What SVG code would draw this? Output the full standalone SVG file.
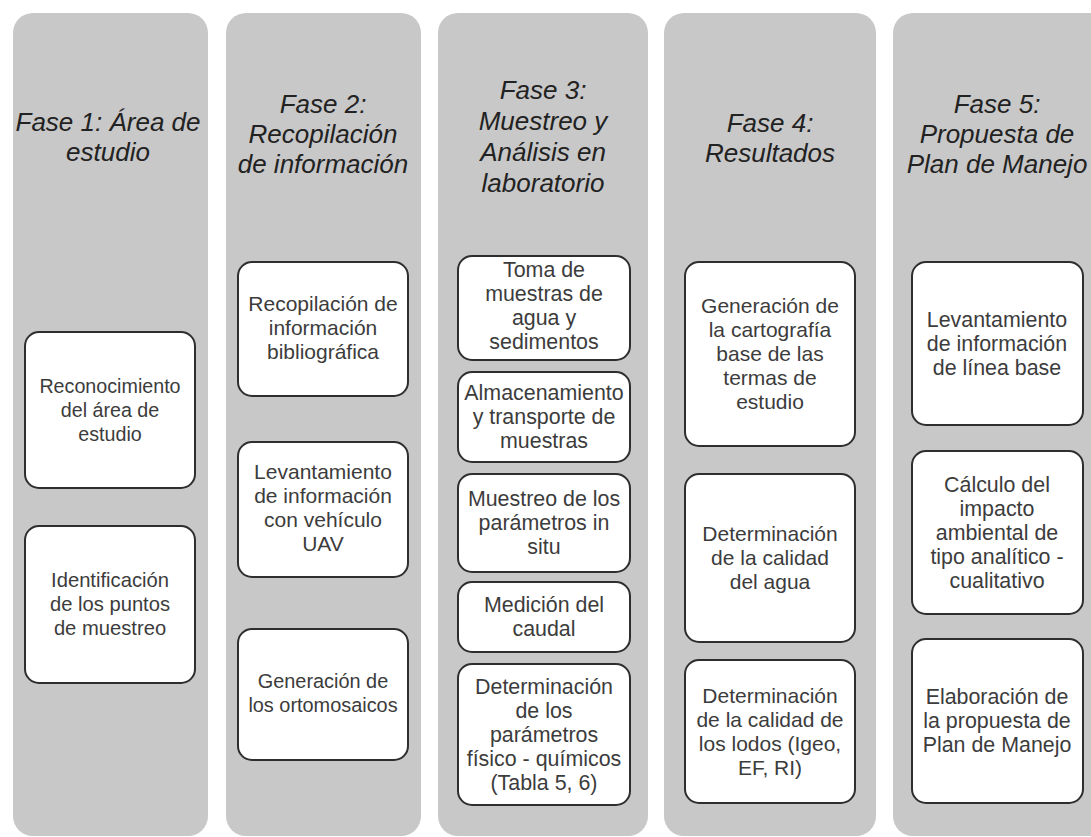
<svg xmlns="http://www.w3.org/2000/svg" width="1091" height="837" viewBox="0 0 1091 837">
<style>
.col{fill:#c8c8c8;}
.box{fill:#ffffff;stroke:#2e2e2e;stroke-width:2;}
.title{font-family:"Liberation Sans",Arial,sans-serif;font-style:italic;font-size:26px;fill:#222222;text-anchor:middle;}
.t{font-family:"Liberation Sans",Arial,sans-serif;font-size:21px;fill:#3c3c3c;text-anchor:middle;}
</style>
<rect width="1091" height="837" fill="#ffffff"/>
<g id="phase1">
<rect class="col" x="13" y="13" width="195" height="823" rx="20"/>
<text class="title"><tspan x="108" y="131">Fase 1: Área de</tspan><tspan x="108" y="161">estudio</tspan></text>
</g>
<g id="phase2">
<rect class="col" x="226" y="13" width="195" height="823" rx="20"/>
<text class="title"><tspan x="323" y="113">Fase 2:</tspan><tspan x="323" y="143">Recopilación</tspan><tspan x="323" y="173">de información</tspan></text>
</g>
<g id="phase3">
<rect class="col" x="438" y="13" width="210" height="823" rx="20"/>
<text class="title"><tspan x="543" y="99">Fase 3:</tspan><tspan x="543" y="130">Muestreo y</tspan><tspan x="543" y="161">Análisis en</tspan><tspan x="543" y="192">laboratorio</tspan></text>
</g>
<g id="phase4">
<rect class="col" x="664" y="13" width="212" height="823" rx="20"/>
<text class="title"><tspan x="770" y="132">Fase 4:</tspan><tspan x="770" y="162">Resultados</tspan></text>
</g>
<g id="phase5">
<rect class="col" x="893" y="13" width="220" height="823" rx="20"/>
<text class="title"><tspan x="997" y="113">Fase 5:</tspan><tspan x="997" y="143">Propuesta de</tspan><tspan x="997" y="173">Plan de Manejo</tspan></text>
</g>

<g id="n1a"><rect class="box" x="25" y="332" width="170" height="156" rx="14"/>
<text class="t" style="font-size:19.7px"><tspan x="110" y="393">Reconocimiento</tspan><tspan x="110" y="417">del área de</tspan><tspan x="110" y="441">estudio</tspan></text></g>
<g id="n1b"><rect class="box" x="25" y="526" width="170" height="157" rx="14"/>
<text class="t" style="font-size:20.2px"><tspan x="110" y="587">Identificación</tspan><tspan x="110" y="611">de los puntos</tspan><tspan x="110" y="635">de muestreo</tspan></text></g>

<g id="n2a"><rect class="box" x="238" y="262" width="170" height="134" rx="14"/>
<text class="t"><tspan x="323" y="311">Recopilación de</tspan><tspan x="323" y="335">información</tspan><tspan x="323" y="359">bibliográfica</tspan></text></g>
<g id="n2b"><rect class="box" x="238" y="442" width="170" height="135" rx="14"/>
<text class="t"><tspan x="323" y="479">Levantamiento</tspan><tspan x="323" y="503">de información</tspan><tspan x="323" y="527">con vehículo</tspan><tspan x="323" y="551">UAV</tspan></text></g>
<g id="n2c"><rect class="box" x="238" y="629" width="170" height="131" rx="14"/>
<text class="t" style="font-size:19.9px"><tspan x="323" y="688">Generación de</tspan><tspan x="323" y="712">los ortomosaicos</tspan></text></g>

<g id="n3a"><rect class="box" x="458" y="256" width="172" height="104" rx="14"/>
<text class="t" style="font-size:21.4px"><tspan x="544" y="277">Toma de</tspan><tspan x="544" y="301">muestras de</tspan><tspan x="544" y="325">agua y</tspan><tspan x="544" y="349">sedimentos</tspan></text></g>
<g id="n3b"><rect class="box" x="458" y="372" width="172" height="90" rx="14"/>
<text class="t" style="font-size:21.4px"><tspan x="544" y="400">Almacenamiento</tspan><tspan x="544" y="424">y transporte de</tspan><tspan x="544" y="448">muestras</tspan></text></g>
<g id="n3c"><rect class="box" x="458" y="474" width="172" height="98" rx="14"/>
<text class="t" style="font-size:21.4px"><tspan x="544" y="506">Muestreo de los</tspan><tspan x="544" y="530">parámetros in</tspan><tspan x="544" y="554">situ</tspan></text></g>
<g id="n3d"><rect class="box" x="458" y="582" width="172" height="70" rx="14"/>
<text class="t" style="font-size:21.4px"><tspan x="544" y="612">Medición del</tspan><tspan x="544" y="636">caudal</tspan></text></g>
<g id="n3e"><rect class="box" x="458" y="664" width="172" height="141" rx="14"/>
<text class="t" style="font-size:21.4px"><tspan x="544" y="694">Determinación</tspan><tspan x="544" y="718">de los</tspan><tspan x="544" y="742">parámetros</tspan><tspan x="544" y="766">físico - químicos</tspan><tspan x="544" y="790">(Tabla 5, 6)</tspan></text></g>

<g id="n4a"><rect class="box" x="685" y="262" width="170" height="184" rx="14"/>
<text class="t"><tspan x="770" y="313">Generación de</tspan><tspan x="770" y="337">la cartografía</tspan><tspan x="770" y="361">base de las</tspan><tspan x="770" y="385">termas de</tspan><tspan x="770" y="409">estudio</tspan></text></g>
<g id="n4b"><rect class="box" x="685" y="474" width="170" height="168" rx="14"/>
<text class="t"><tspan x="770" y="541">Determinación</tspan><tspan x="770" y="565">de la calidad</tspan><tspan x="770" y="589">del agua</tspan></text></g>
<g id="n4c"><rect class="box" x="685" y="660" width="170" height="143" rx="14"/>
<text class="t"><tspan x="770" y="703">Determinación</tspan><tspan x="770" y="727">de la calidad de</tspan><tspan x="770" y="751">los lodos (Igeo,</tspan><tspan x="770" y="775">EF, RI)</tspan></text></g>

<g id="n5a"><rect class="box" x="912" y="262" width="171" height="163" rx="14"/>
<text class="t" style="font-size:21.4px"><tspan x="997" y="327">Levantamiento</tspan><tspan x="997" y="351">de información</tspan><tspan x="997" y="375">de línea base</tspan></text></g>
<g id="n5b"><rect class="box" x="912" y="451" width="171" height="163" rx="14"/>
<text class="t" style="font-size:21.4px"><tspan x="997" y="492">Cálculo del</tspan><tspan x="997" y="516">impacto</tspan><tspan x="997" y="540">ambiental de</tspan><tspan x="997" y="564">tipo analítico -</tspan><tspan x="997" y="588">cualitativo</tspan></text></g>
<g id="n5c"><rect class="box" x="912" y="639" width="171" height="164" rx="14"/>
<text class="t" style="font-size:21.4px"><tspan x="997" y="704">Elaboración de</tspan><tspan x="997" y="728">la propuesta de</tspan><tspan x="997" y="752">Plan de Manejo</tspan></text></g>

<g id="connectors"></g>
</svg>
